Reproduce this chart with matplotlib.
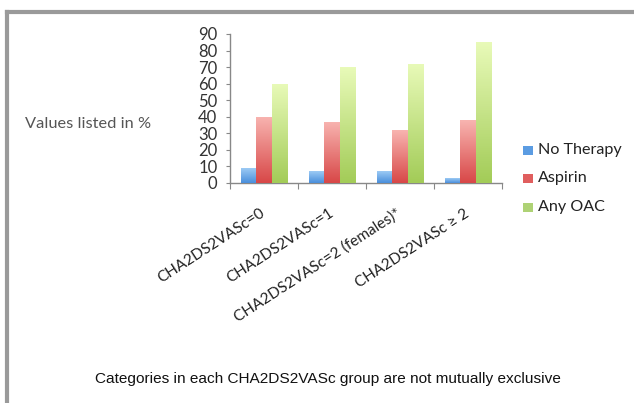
import numpy as np
import matplotlib
matplotlib.use("Agg")
import matplotlib.pyplot as plt
from matplotlib.colors import LinearSegmentedColormap
from matplotlib.patches import Rectangle

categories = ["CHA2DS2VASc=0", "CHA2DS2VASc=1", "CHA2DS2VASc=2 (females)*", "CHA2DS2VASc \u2265 2"]
series_names = ["No Therapy", "Aspirin", "Any OAC"]
no_therapy = [9, 7, 7, 3]
aspirin = [40, 37, 32, 38]
any_oac = [60, 70, 72, 85]
yticks = [0, 10, 20, 30, 40, 50, 60, 70, 80, 90]

series = [no_therapy, aspirin, any_oac]
grads = [("#4a8fdc", "#9ccaf4"), ("#d84848", "#f8b4b0"), ("#a3cc58", "#e8fab8")]
legend_cols = ["#5b9ce2", "#e05e5e", "#aed275"]

fig = plt.figure(figsize=(6.34, 4.03), dpi=100)
fig.patch.set_facecolor("white")

# frame (cropped on right/bottom)
fig.add_artist(plt.Line2D([6.5/634, 1.0], [1-11.5/403, 1-11.5/403], transform=fig.transFigure, color="#9a9a9a", lw=3))
fig.add_artist(plt.Line2D([6.5/634, 6.5/634], [0, 1-11.5/403], transform=fig.transFigure, color="#9a9a9a", lw=3))

ax = fig.add_axes([230/634, 1-183/403, 272/634, 149/403])
n = len(categories)
x = np.arange(n)
w = 0.225
offsets = [-w, 0, w]
for s, vals, (c0, c1), off in zip(series_names, series, grads, offsets):
    bars = ax.bar(x + off, vals, width=w, color=c0, edgecolor="none", zorder=2)
    cmap = LinearSegmentedColormap.from_list("g", [c0, c1])
    for b in bars:
        x0 = b.get_x(); bw = b.get_width(); h = b.get_height()
        grad = np.linspace(0, 1, 64).reshape(-1, 1)
        im = ax.imshow(grad, extent=[x0, x0 + bw, 0, h], origin="lower", cmap=cmap,
                       aspect="auto", zorder=3)
        im.set_clip_path(b)

ax.set_xlim(-0.5, n - 0.5)
ax.set_ylim(0, 90)
ax.set_yticks(yticks)
ax.set_yticklabels([str(t) for t in yticks], fontsize=12, color="#333333", family="Lato")
ax.set_xticks(np.arange(n + 1) - 0.5, minor=False)
ax.set_xticklabels([])
ax.tick_params(axis="x", length=4, color="#888888", direction="out")
ax.tick_params(axis="y", length=3, color="#888888", pad=6)
for sp in ["top", "right"]:
    ax.spines[sp].set_visible(False)
for sp in ["left", "bottom"]:
    ax.spines[sp].set_color("#888888")
    ax.spines[sp].set_linewidth(1)
ax.set_facecolor("none")

for i, c in enumerate(categories):
    ax.annotate(c, xy=(i, 0), xycoords="data", xytext=(0, -21), textcoords="offset points",
                rotation=33, rotation_mode="anchor", ha="right", va="center",
                fontsize=11.1, color="#222222", family="Lato")

# legend
ly = [150, 178, 207]
for name, col, yy in zip(series_names, legend_cols, ly):
    fig.add_artist(Rectangle((523/634, 1-(yy+4.5)/403), 10/634, 9/403, transform=fig.transFigure,
                             facecolor=col, edgecolor="none"))
    fig.text(538/634, 1-yy/403, name, fontsize=11.6, color="#222222", family="Lato", va="center", ha="left")

fig.text(25/634, 1-124/403, "Values listed in %", fontsize=11.8, color="#555555", family="Lato", va="center", ha="left")
fig.text(95/634, 1-379/403, "Categories in each CHA2DS2VASc group are not mutually exclusive",
         fontsize=11.1, color="#111111", family="Liberation Sans", va="center", ha="left")

fig.savefig("out.png", dpi=100, facecolor="white")
